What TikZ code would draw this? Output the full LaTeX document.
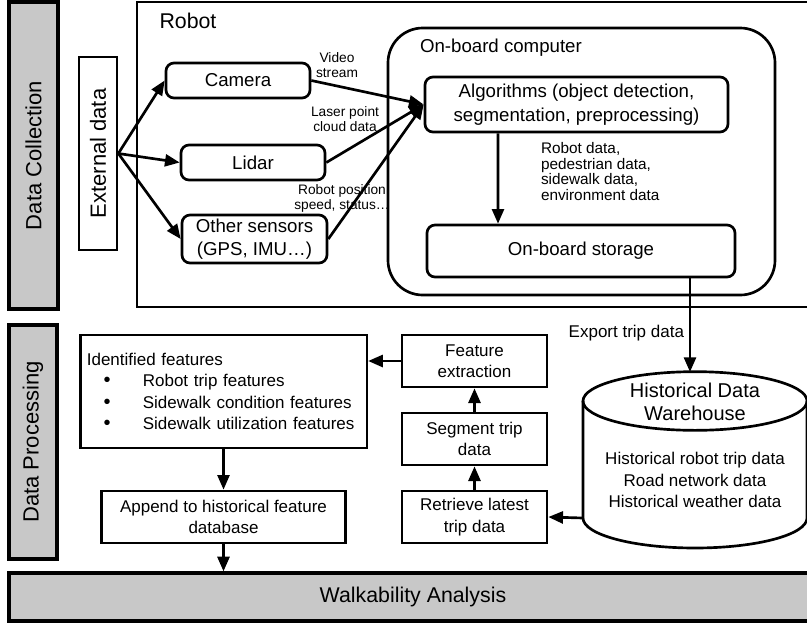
\documentclass[tikz,border=0pt]{standalone}
\usepackage{fontspec}
\setmainfont{Liberation Sans}
\usetikzlibrary{arrows.meta}
\definecolor{barfill}{RGB}{200,200,200}
\newcommand\itembullet{\makebox[42pt][l]{\hspace{12.5pt}\smash{\fontsize{15}{15}\selectfont\textbullet}}}

\begin{document}
\begin{tikzpicture}[x=0.75pt, y=-0.75pt, line width=2pt,
  every node/.style={inner sep=2pt, align=center, font=\fontsize{14}{17}\selectfont},
  box/.style={draw, rectangle},
  rbox/.style={draw, rectangle, rounded corners=6pt},
  bar/.style={draw, fill=barfill, line width=2.5pt, font=\fontsize{16.5}{20}\selectfont},
  small/.style={font=\fontsize{10.3}{11.25}\selectfont},
  mid/.style={font=\fontsize{12.75}{16}\selectfont},
  arr/.style={-{Triangle[length=11pt,width=9pt]}}]
  \useasboundingbox (0,0) rectangle (807,622);

  % side bars and bottom bar
  \node[bar, rotate=90, minimum width=230.25pt, minimum height=36.75pt] (dcbar) at (33.5,155.5) {Data Collection};
  \node[bar, rotate=90, minimum width=175.5pt, minimum height=36pt] (dpbar) at (33,442) {Data Processing};
  \node[bar, minimum width=606pt, minimum height=36pt, font=\fontsize{16}{19}\selectfont] (wabar) at (413,597) {Walkability Analysis};

  % data collection
  \node[box, minimum width=508.5pt, minimum height=228.75pt] (robot) at (476,154.5) {};
  \node[anchor=west, font=\fontsize{16}{19}\selectfont] (robotlbl) at (155.5,21) {Robot};
  \node[box, rotate=90, minimum width=144.75pt, minimum height=28.5pt, font=\fontsize{16.5}{20}\selectfont] (ext) at (98,153.5) {External data};
  \node[rbox, minimum width=108pt, minimum height=26.25pt] (cam) at (238,80.5) {Camera};
  \node[rbox, minimum width=108pt, minimum height=26.25pt] (lidar) at (253,162.5) {Lidar};
  \node[rbox, minimum width=108.75pt, minimum height=36pt] (other) at (254.5,239) {Other sensors\\(GPS, IMU…)};
  \node[draw, rounded corners=26pt, minimum width=290.25pt, minimum height=200.25pt] (obc) at (581.5,161.5) {};
  \node[anchor=west] (obclbl) at (416,48) {On-board computer};
  \node[rbox, minimum width=227.25pt, minimum height=41.25pt, font=\fontsize{14}{18}\selectfont] (algo) at (576.5,104.5) {Algorithms (object detection,\\segmentation, preprocessing)};
  \node[rbox, minimum width=231pt, minimum height=39pt] (store) at (581,251) {On-board storage};
  \node[anchor=west, align=left, font=\fontsize{11.5}{11.8}\selectfont] (datalbl) at (537,171.5) {Robot data,\\pedestrian data,\\sidewalk data,\\environment data};
  \node[small] (videolbl) at (337,65.5) {Video\\stream};
  \node[small] (laserlbl) at (345,119.5) {Laser point\\cloud data};
  \node[small] (poslbl) at (342,198) {Robot position\\speed, status…};

  \draw[arr] (ext.south) -- (cam.west);
  \draw[arr] (ext.south) -- (lidar.west);
  \draw[arr] (ext.south) -- (other.west);
  \draw[arr] (cam.east) -- (algo.west);
  \draw[arr] (lidar.east) -- (algo.west);
  \draw[arr] (other.east) -- (algo.west);
  \draw[arr] ([xshift=-58.9pt]algo.south) -- ([xshift=-62.25pt]store.north);

  % data warehouse
  \draw (583,401) -- (583,518) arc[start angle=180, end angle=360, x radius=84pt, y radius=22.5pt] -- (807,401);
  \draw (695,401) ellipse [x radius=84pt, y radius=22pt];
  \node[font=\fontsize{15}{17.25}\selectfont] (whtitle) at (695,401.5) {Historical Data\\Warehouse};
  \node[mid] (whdata) at (695,480) {Historical robot trip data\\Road network data\\Historical weather data};
  \coordinate (whtop) at (690,372);
  \coordinate (whleft) at (583,518);

  % data processing
  \node[box, mid, minimum width=108.75pt, minimum height=39pt] (featx) at (474.5,361) {Feature\\extraction};
  \node[box, mid, minimum width=108.75pt, minimum height=39pt] (segm) at (474.5,439) {Segment trip\\data};
  \node[box, mid, minimum width=108.75pt, minimum height=39pt] (retr) at (474.5,517) {Retrieve latest\\trip data};
  \node[box, mid, align=left, text width=205pt, inner xsep=5pt, minimum height=84.75pt] (ident) at (223.5,391.5)
    {Identified features\\
     \itembullet Robot trip features\\
     \itembullet Sidewalk condition features\\
     \itembullet Sidewalk utilization features};
  \node[box, mid, minimum width=183pt, minimum height=39pt] (appnd) at (223.5,517) {Append to historical feature\\database};
  \node[mid, anchor=east] (exportlbl) at (688,333) {Export trip data};

  \draw[arr] ([xshift=81.75pt]store.south) -- (whtop);
  \draw[arr] (whleft) -- (retr.east);
  \draw[arr] (retr.north) -- (segm.south);
  \draw[arr] (segm.north) -- (featx.south);
  \draw[arr] (featx.west) -- (featx.west -| ident.east);
  \draw[arr] (ident.south) -- (appnd.north);
  \draw[arr] (appnd.south) -- (appnd.south |- wabar.north);
\end{tikzpicture}
\end{document}
